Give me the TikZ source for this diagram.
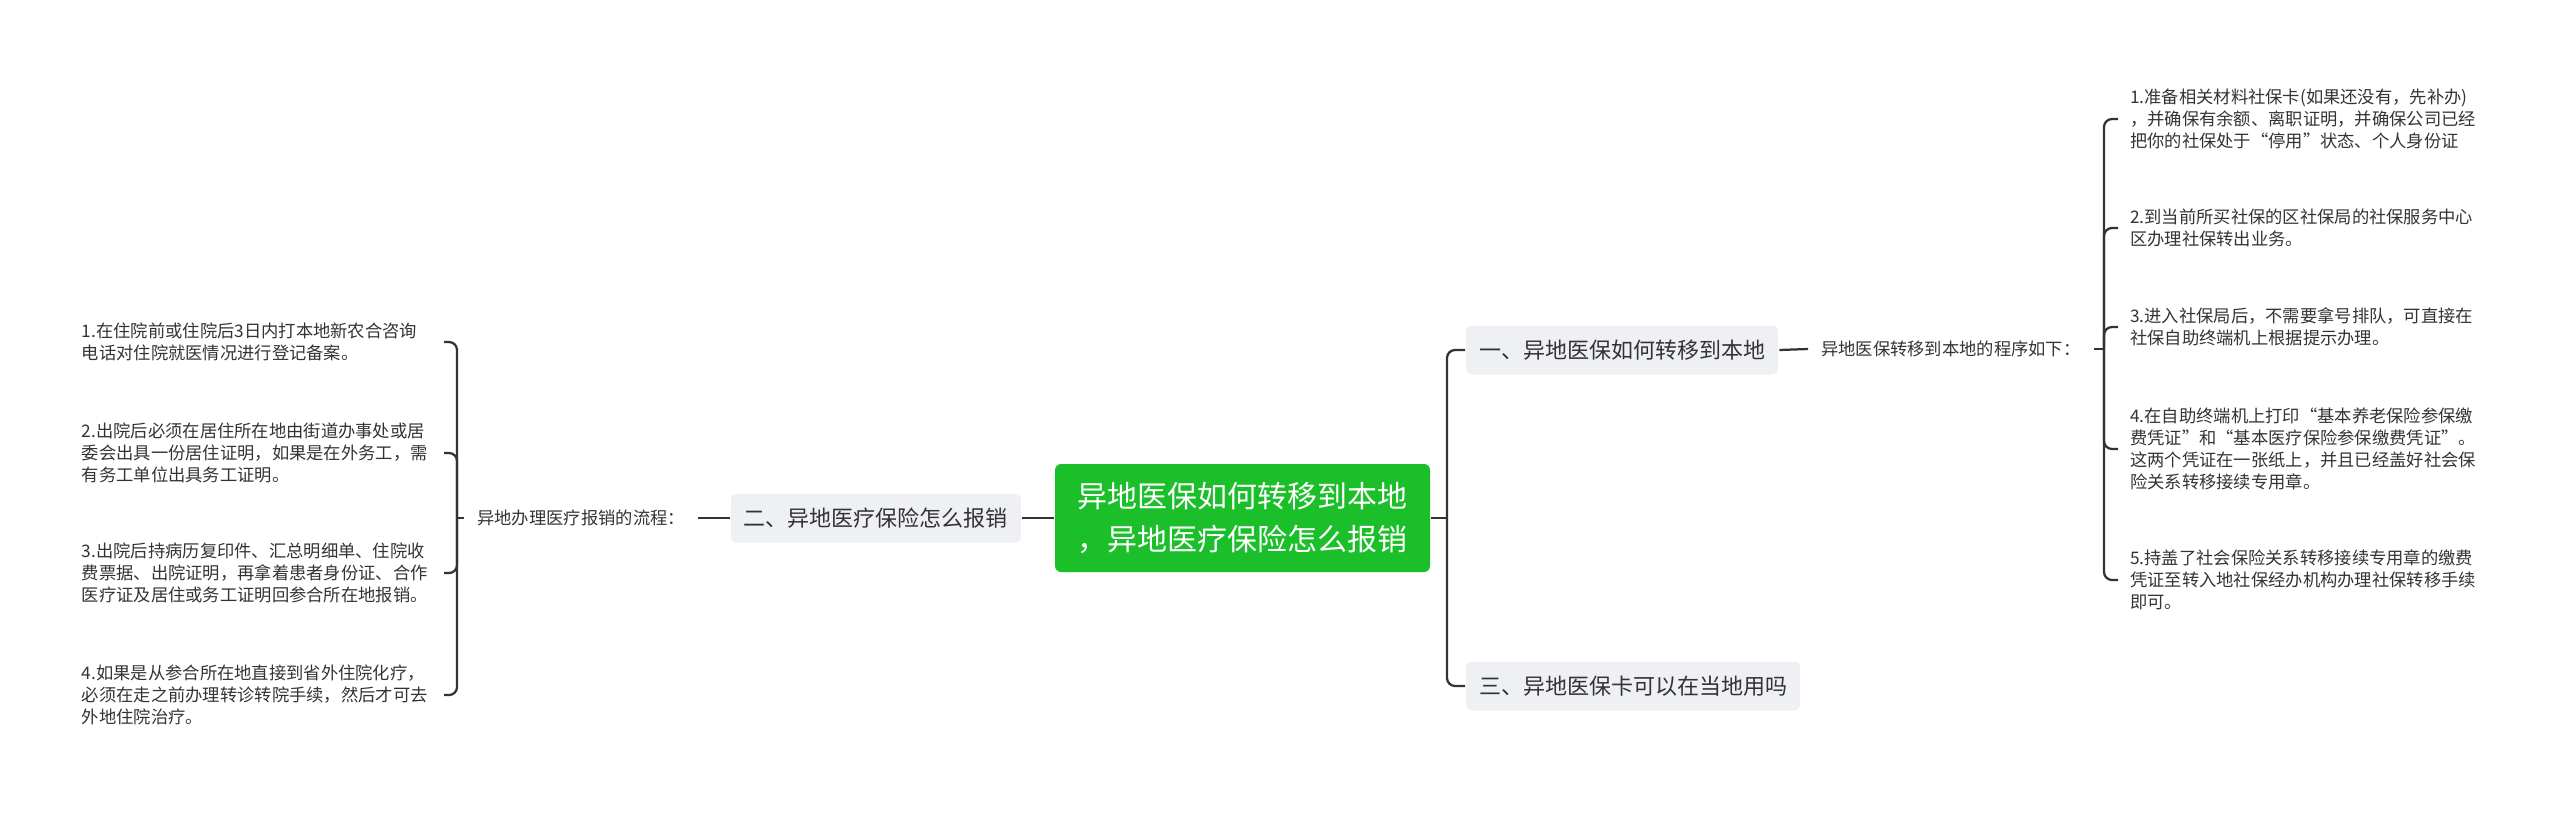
\documentclass[tikz,border=0pt]{standalone}
\usepackage{fontspec}
\setmainfont{Noto Sans CJK SC}
\usepackage{tikz}
\usetikzlibrary{positioning}
\definecolor{rootgreen}{HTML}{1ABF2A}
\definecolor{boxgray}{HTML}{EEF0F3}
\definecolor{linegray}{HTML}{333333}

\begin{document}
\begin{tikzpicture}[x=0.25mm, y=-0.25mm, line width=1.6pt, draw=linegray,
    rootbox/.style={fill=rootgreen, text=white, rounded corners=1.5mm, align=center,
        minimum width=93.75mm, minimum height=27mm,
        font=\fontsize{21.3pt}{30.6pt}\selectfont},
    branchbox/.style={fill=boxgray, text=linegray, rounded corners=1.3mm,
        minimum height=12.25mm, inner xsep=3.25mm,
        font=\fontsize{15.65pt}{18pt}\selectfont},
    lab/.style={text=linegray, inner xsep=3mm, font=\fontsize{12.3pt}{15.6pt}\selectfont},
    item/.style={text=linegray, text width=87.5mm, align=left, inner xsep=2.75mm,
        inner ysep=0.5mm, font=\fontsize{12.3pt}{15.6pt}\selectfont},
    branch/.style={rounded corners=2mm}]
    \useasboundingbox (0,0) rectangle (2560,812);

    % Root
    \node[rootbox] (root) at (1242.5,518) {异地医保如何转移到本地\\，异地医疗保险怎么报销};

    % Branches
    \node[branchbox, anchor=west] (br1) at (1465,350) {一、异地医保如何转移到本地};
    \node[branchbox, anchor=east] (br2) at (1022,518) {二、异地医疗保险怎么报销};
    \node[branchbox, anchor=west] (br3) at (1465,686) {三、异地医保卡可以在当地用吗};

    % Labels
    \node[lab, anchor=west] (lab1) at (1808,349) {异地医保转移到本地的程序如下：};
    \node[lab, anchor=east] (lab2) at (698,518) {异地办理医疗报销的流程：};

    % Junctions
    \coordinate (jm) at (1447,518);
    \coordinate (jr) at (2104,349);
    \coordinate (jl) at (457,518);

    % Items right
    \node[item, anchor=west] (ra1) at (2118,119) {1.准备相关材料社保卡(如果还没有，先补办)\\，并确保有余额、离职证明，并确保公司已经\\把你的社保处于“停用”状态、个人身份证};
    \node[item, anchor=west] (ra2) at (2118,228) {2.到当前所买社保的区社保局的社保服务中心\\区办理社保转出业务。};
    \node[item, anchor=west] (ra3) at (2118,327) {3.进入社保局后，不需要拿号排队，可直接在\\社保自助终端机上根据提示办理。};
    \node[item, anchor=west] (ra4) at (2118,449) {4.在自助终端机上打印“基本养老保险参保缴\\费凭证”和“基本医疗保险参保缴费凭证”。\\这两个凭证在一张纸上，并且已经盖好社会保\\险关系转移接续专用章。};
    \node[item, anchor=west] (ra5) at (2118,580) {5.持盖了社会保险关系转移接续专用章的缴费\\凭证至转入地社保经办机构办理社保转移手续\\即可。};

    % Items left
    \node[item, anchor=east] (la1) at (444,342) {1.在住院前或住院后3日内打本地新农合咨询\\电话对住院就医情况进行登记备案。};
    \node[item, anchor=east] (la2) at (444,453) {2.出院后必须在居住所在地由街道办事处或居\\委会出具一份居住证明，如果是在外务工，需\\有务工单位出具务工证明。};
    \node[item, anchor=east] (la3) at (444,573) {3.出院后持病历复印件、汇总明细单、住院收\\费票据、出院证明，再拿着患者身份证、合作\\医疗证及居住或务工证明回参合所在地报销。};
    \node[item, anchor=east] (la4) at (444,695) {4.如果是从参合所在地直接到省外住院化疗，\\必须在走之前办理转诊转院手续，然后才可去\\外地住院治疗。};

    % Connections root
    \draw (root.east) -- (jm);
    \draw[branch] (jm) |- (br1.west);
    \draw[branch] (jm) |- (br3.west);
    \draw (root.west) -- (br2.east);

    % Connections right
    \draw (br1.east) -- (lab1.west);
    \draw (lab1.east) -- (jr);
    \foreach \i in {1,...,5}
        \draw[branch] (jr) |- (ra\i.west);

    % Connections left
    \draw (br2.west) -- (lab2.east);
    \draw (lab2.west) -- (jl);
    \foreach \i in {1,...,4}
        \draw[branch] (jl) |- (la\i.east);
\end{tikzpicture}
\end{document}
